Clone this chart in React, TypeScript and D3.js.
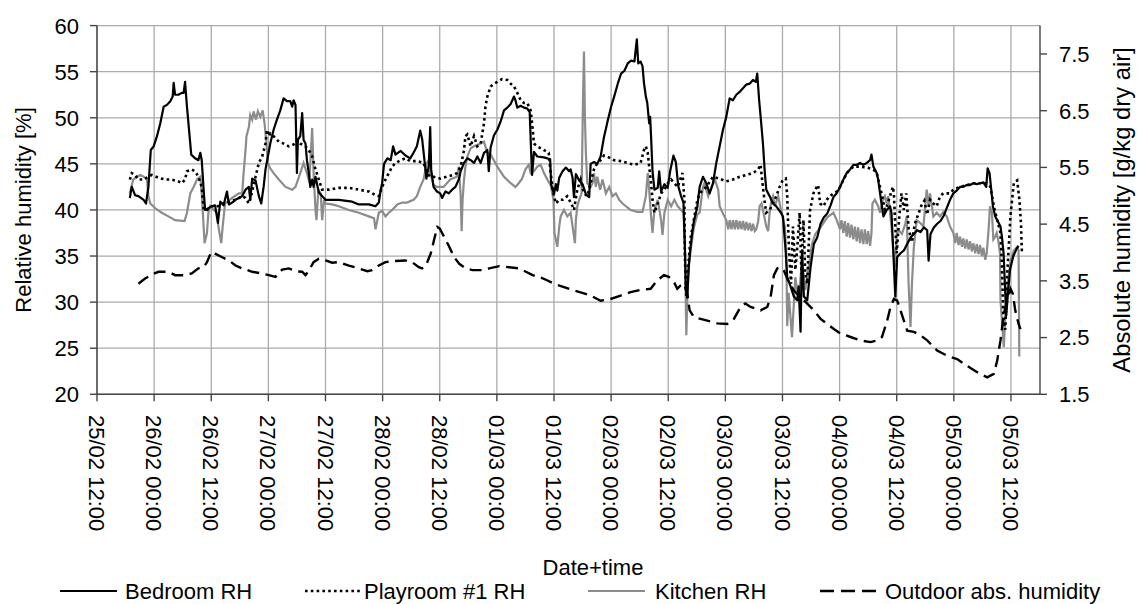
import React, { useRef, useEffect } from "react";
import * as d3 from "d3";

// each point: [hours after 25/02 12:00, value]
const bedroomRH: [number, number][] = [
  [6.9,41.3],[7.3,42.5],[8.0,41.6],[8.7,41.5],[9.8,41.1],[10.3,40.7],[10.8,42.5],[11.3,46.5],[11.9,46.9],[12.6,48.0],[13.3,49.4],[14.0,51.2],[14.7,51.4],[15.4,51.8],[15.9,52.3],[16.1,53.8],[16.4,52.5],[17.1,52.5],[17.8,52.7],[18.2,52.7],[18.5,53.9],[18.9,51.2],[19.4,48.3],[19.8,46.0],[20.6,45.6],[21.3,45.4],[21.7,46.2],[22.0,45.4],[22.4,42.2],[22.7,40.0],[23.4,40.2],[24.1,40.4],[24.8,40.5],[25.4,38.6],[25.9,40.9],[26.6,40.5],[27.3,42.0],[27.7,40.6],[28.4,40.8],[29.1,41.1],[29.8,41.3],[30.5,41.5],[31.2,42.2],[31.9,42.5],[32.2,41.1],[32.6,43.4],[33.3,43.2],[34.0,41.5],[34.5,40.7],[35.0,42.5],[35.4,44.4],[35.9,45.8],[36.4,47.2],[37.1,48.7],[37.8,49.8],[38.5,50.8],[39.2,52.1],[39.9,51.8],[40.6,51.8],[41.0,51.2],[41.3,51.9],[41.7,51.4],[42.0,44.0],[42.2,47.6],[42.7,48.0],[43.1,50.5],[43.4,47.6],[43.8,47.2],[44.1,45.4],[44.5,44.0],[44.8,42.5],[45.2,43.3],[45.5,42.5],[45.9,43.6],[46.6,41.9],[47.3,41.5],[48.0,41.1],[50.8,41.1],[53.6,40.9],[55.0,40.6],[57.1,40.6],[58.5,40.4],[59.2,40.8],[59.6,42.2],[59.9,42.9],[60.3,45.0],[61.0,45.6],[61.7,45.4],[62.2,46.9],[62.7,46.0],[63.8,46.4],[64.8,45.9],
  [65.8,45.6],[66.5,46.2],[67.2,46.9],[67.9,48.6],[68.3,47.7],[68.6,46.3],[69.2,43.4],[69.7,44.8],[70.0,49.0],[70.2,44.4],[70.7,42.5],[71.4,42.0],[72.1,41.8],[72.5,41.3],[73.2,42.0],[73.9,41.8],[74.6,42.2],[75.3,42.5],[76.0,43.3],[76.4,44.2],[77.1,45.1],[77.8,45.6],[78.5,45.4],[79.2,45.1],[79.9,45.8],[80.6,45.1],[81.3,46.2],[82.0,46.5],[82.3,44.2],[82.7,46.8],[83.4,48.1],[84.1,48.7],[84.8,49.6],[85.5,50.8],[86.2,51.1],[86.9,51.5],[87.6,52.3],[87.9,51.9],[88.3,51.1],[89.0,51.3],[89.7,51.1],[90.4,51.0],[90.9,50.6],[91.2,46.3],[91.4,43.8],[91.8,46.3],[92.5,45.8],[93.9,45.7],[95.2,45.5],[95.4,42.8],[96.0,41.7],[96.4,42.8],[96.7,42.1],[97.1,43.5],[97.8,44.2],[98.5,44.6],[99.2,44.2],[99.5,44.4],[99.9,43.5],[100.2,41.4],[100.6,43.9],[101.3,43.2],[102.0,42.8],[102.7,41.7],[103.4,41.4],[103.7,45.0],[104.4,45.2],[105.1,45.0],[105.8,45.8],[106.5,47.9],[107.3,49.7],[108.0,51.2],[108.7,52.4],[109.4,53.7],[110.1,54.8],[110.8,55.1],[111.5,55.9],[112.2,56.2],[112.9,56.1],[113.4,58.5],[113.7,55.9],[114.2,56.1],[114.6,55.6],[114.9,53.8],[115.3,52.3],[115.6,51.6],[116.0,49.4],[116.2,50.1],[116.4,47.9],[116.7,44.2],[117.1,42.2],[117.8,42.4],[118.1,44.2],[118.5,42.0],[119.2,42.8],[119.9,42.4],[120.4,44.2],[121.1,45.9],[121.6,45.2],[122.1,42.6],[122.7,41.5],[123.2,40.8],[123.5,36.0],[123.7,31.5],[124.0,30.5],[124.3,33.8],[124.7,36.0],[125.0,37.4],[125.4,38.8],[126.1,40.3],
  [126.6,42.5],[127.3,43.6],[128.0,42.9],[128.7,41.8],[129.4,42.9],[130.1,45.1],[130.8,46.9],[131.5,48.7],[132.2,50.1],[132.9,52.1],[133.6,51.9],[134.3,52.5],[135.0,52.8],[135.7,53.2],[136.4,53.6],[137.1,53.7],[137.8,54.1],[138.4,53.9],[138.7,54.8],[139.1,51.9],[139.6,49.0],[139.9,47.2],[140.3,44.0],[140.6,42.2],[141.3,41.5],[142.0,40.7],[142.7,40.4],[143.8,39.6],[144.1,39.3],[144.7,35.3],[145.0,32.7],[145.7,31.7],[146.4,30.6],[147.1,30.2],[147.4,31.7],[147.8,26.8],[148.1,35.6],[148.5,30.6],[149.2,30.2],[149.9,33.8],[150.6,36.3],[151.3,37.0],[152.0,38.5],[152.7,39.2],[153.4,39.6],[154.1,40.5],[154.7,41.4],[155.4,41.8],[156.1,42.5],[156.8,43.3],[157.5,44.0],[158.2,44.4],[158.9,44.9],[159.6,44.9],[160.3,45.1],[161.0,44.9],[161.7,45.1],[162.4,45.4],[162.7,46.0],[163.1,44.7],[163.8,44.0],[164.1,43.3],[164.5,41.8],[164.8,40.7],[165.2,39.3],[165.9,40.0],[166.6,40.4],[166.9,39.7],[167.3,35.3],[167.7,30.6],[168.1,34.9],[168.8,35.3],[169.5,35.6],[170.2,36.3],[170.9,37.0],[171.6,37.4],[172.3,37.8],[173.0,37.6],[173.7,38.1],[174.4,37.8],[174.7,34.5],[175.1,37.4],[175.8,38.1],[176.5,38.5],[177.2,38.8],[177.9,39.4],[178.5,40.2],[179.2,41.1],[179.9,41.8],[180.6,42.1],[181.3,42.5],[182.0,42.5],[182.7,42.7],[183.4,42.7],[184.1,42.9],[184.8,42.8],[185.5,42.9],[186.2,43.0],[186.8,42.5],[187.1,44.5],[187.5,44.0],[187.8,42.5],[188.2,40.4],[188.7,39.3],[189.1,38.9],[189.8,38.2],[190.1,37.1],[190.45,35.3],[190.8,31.0],[191.0,28.5],[191.3,30.5],[191.8,33.5],[192.5,35.0],[193.2,35.8],[193.6,36.1],
];

const playroomRH: [number, number][] = [
  [6.9,43.3],[7.3,44.0],[8.0,43.8],[8.7,43.3],[9.8,43.3],[10.8,43.6],[11.5,43.8],[12.9,43.5],[14.3,43.3],[15.7,43.3],[17.1,43.1],[17.8,42.9],[18.5,43.3],[18.9,44.2],[19.9,44.4],[20.6,44.2],[21.3,43.6],[22.0,42.5],[22.4,40.0],[23.1,40.0],[24.1,40.4],[25.4,40.4],[26.6,40.7],[27.7,40.9],[29.1,41.1],[30.5,41.5],[31.2,41.3],[31.9,40.7],[32.6,42.0],[33.3,43.6],[34.0,45.1],[34.7,45.8],[35.4,47.2],[35.7,48.7],[36.1,48.0],[36.4,48.3],[37.1,48.0],[38.2,47.4],[39.2,47.2],[40.3,46.9],[41.3,47.1],[42.0,47.6],[42.7,47.2],[43.8,46.9],[44.5,46.5],[45.2,45.8],[45.9,44.4],[46.6,43.3],[47.3,42.2],[48.7,42.2],[50.8,42.4],[52.9,42.4],[55.0,42.2],[57.1,42.0],[58.5,41.6],[59.2,41.5],[59.9,42.5],[60.6,43.3],[61.3,44.0],[62.0,44.7],[62.7,45.1],[63.8,45.4],[64.8,45.6],
  [65.8,45.3],[67.2,45.3],[68.6,45.1],[69.3,44.0],[70.0,43.6],[70.7,43.6],[72.1,43.4],[73.5,43.6],[74.9,43.8],[75.6,44.0],[76.4,44.7],[77.1,46.5],[77.4,48.0],[77.8,48.2],[78.5,46.9],[79.2,48.0],[79.9,46.9],[80.6,47.2],[81.3,49.4],[81.6,51.2],[82.0,52.3],[82.7,53.4],[83.4,53.7],[84.1,53.9],[85.1,54.2],[86.2,54.1],[86.9,53.7],[87.6,53.4],[88.3,52.7],[89.0,51.9],[89.7,51.6],[90.4,51.6],[91.1,50.8],[91.4,49.4],[91.8,47.2],[92.5,46.9],[93.9,46.5],[94.9,46.2],[95.3,44.0],[95.7,42.5],[96.0,41.5],[96.4,40.7],[97.1,41.1],[97.8,41.1],[98.8,41.5],[99.9,40.4],[100.2,40.0],[100.9,42.2],[101.6,43.3],[102.3,41.8],[103.0,41.5],[103.7,42.9],[104.4,44.4],[105.1,45.1],[105.8,45.4],[106.5,45.9],[107.2,45.8],[108.6,45.4],[110.0,45.3],[111.4,45.1],[112.8,44.9],[114.2,45.1],[114.9,46.5],[115.3,46.9],[115.7,46.2],[116.0,44.7],[116.4,42.9],[116.7,41.1],[117.1,39.7],[117.8,40.7],[118.5,41.8],[119.2,42.2],[119.9,42.9],[120.6,43.3],[121.3,42.9],[122.0,42.5],[122.7,43.6],[123.0,44.0],[123.4,41.1],[123.5,35.0],[123.8,30.5],[124.0,32.0],[124.3,34.5],[124.7,37.0],[125.4,39.0],[126.1,41.0],
  [126.6,41.8],[128.0,42.5],[129.4,43.6],[130.8,43.4],[132.2,43.1],[133.6,43.3],[135.0,43.6],[136.4,43.8],[137.8,44.0],[138.9,44.4],[139.4,44.9],[139.8,42.9],[140.3,40.7],[140.6,39.7],[141.3,40.0],[142.0,40.7],[142.7,41.5],[143.4,42.5],[144.1,43.3],[144.7,43.4],[145.0,41.5],[145.2,38.2],[145.4,35.3],[145.8,32.0],[146.2,38.2],[146.7,33.5],[147.2,36.5],[147.6,39.7],[148.0,33.0],[148.4,38.9],[148.8,33.0],[149.2,32.0],[149.8,40.0],[150.5,41.8],[151.2,42.5],[151.5,42.7],[151.9,40.7],[152.6,40.4],[153.3,41.1],[154.0,41.5],[154.7,41.8],[155.4,42.0],[156.1,42.5],[157.5,44.0],[158.9,44.7],[160.3,44.7],[161.7,44.6],[163.1,44.4],[163.8,44.0],[164.5,42.5],[165.1,41.1],[165.5,40.0],[165.9,40.4],[166.6,41.5],[167.2,42.5],[167.4,41.8],[167.7,38.2],[168.0,35.3],[168.5,39.0],[169.0,41.8],[169.5,40.0],[170.0,41.8],[170.5,38.0],[171.2,36.5],[171.8,38.5],[172.5,39.5],[173.2,40.5],[173.8,41.0],[174.4,39.5],[175.0,41.1],[175.7,40.7],[176.4,40.4],[177.1,41.5],[177.8,41.8],[179.2,41.8],[179.9,42.2],[181.3,42.5],[182.7,42.7],[184.1,42.9],[185.5,42.9],[186.9,42.9],[187.7,42.5],[188.4,40.4],[189.1,38.9],[189.8,37.5],[190.1,34.0],[190.4,28.5],[190.8,27.0],[191.2,32.9],[191.9,39.4],[192.6,42.9],[193.3,43.2],[193.8,41.0],[194.1,38.5],[194.3,35.4],
];

const kitchenRH: [number, number][] = [
  [6.9,41.8],[7.6,43.3],[8.4,43.6],[9.1,43.8],[9.8,43.6],[10.5,43.3],[10.8,41.5],[11.2,40.7],[12.2,40.2],[13.6,39.7],[15.0,39.3],[16.4,38.9],[18.4,38.8],[18.9,39.7],[19.6,41.8],[20.3,42.5],[21.0,43.3],[21.7,43.6],[22.0,41.8],[22.4,38.2],[22.6,36.4],[23.1,37.5],[23.4,39.7],[23.8,40.4],[24.5,40.0],[25.2,39.7],[25.5,38.2],[26.1,36.4],[26.4,38.2],[26.9,40.7],[28.4,41.3],[29.8,41.8],[30.5,41.8],[30.8,44.0],[31.2,46.5],[31.4,48.0],[31.9,49.0],[32.2,50.3],[32.6,49.8],[32.9,50.7],[33.4,49.8],[33.8,50.7],[34.3,50.1],[34.8,50.8],[35.2,49.4],[35.6,47.2],[35.9,45.1],[36.4,44.5],[37.1,44.0],[38.2,43.3],[39.6,42.5],[41.0,42.2],[41.7,42.5],[42.7,44.0],[43.4,45.1],[44.1,44.0],[44.6,43.0],[45.2,48.9],[45.5,44.0],[45.9,40.0],[46.1,38.9],[46.5,42.2],[47.0,41.8],[47.3,38.9],[47.7,41.1],[48.0,40.7],[49.4,40.6],[50.8,40.4],[52.9,40.0],[55.0,39.7],[57.1,39.3],[58.2,39.1],[58.5,37.9],[58.9,38.9],[59.2,39.7],[59.9,39.9],[60.6,39.3],[61.3,39.7],[62.0,40.0],[63.1,40.6],[64.1,40.8],
  [65.1,40.8],[66.5,41.1],[67.2,41.5],[67.9,42.5],[68.6,43.3],[69.3,45.1],[69.7,45.4],[70.0,44.0],[70.7,42.7],[71.4,42.5],[72.8,42.5],[74.2,43.3],[75.6,43.6],[76.0,44.7],[76.4,41.5],[76.6,37.7],[76.8,41.1],[77.1,43.3],[77.4,44.7],[77.8,45.8],[78.5,46.7],[79.2,46.9],[80.6,47.2],[81.3,47.4],[82.0,46.2],[82.7,46.0],[84.1,44.7],[85.5,43.6],[86.9,42.9],[87.9,42.5],[88.6,42.9],[89.3,43.4],[90.0,44.4],[90.7,44.9],[91.1,44.0],[91.8,44.2],[92.5,44.7],[93.2,44.9],[93.9,44.0],[94.6,43.3],[95.3,42.7],[95.9,41.1],[96.1,37.5],[96.7,36.0],[97.1,38.2],[97.4,39.3],[98.1,40.0],[98.8,39.3],[99.5,39.7],[100.1,37.5],[100.4,36.4],[100.6,38.9],[100.9,40.4],[101.3,41.1],[101.8,41.8],[102.1,52.0],[102.3,57.2],[102.5,50.0],[102.7,46.2],[103.0,42.9],[103.7,42.5],[104.1,42.9],[104.4,44.0],[104.8,42.5],[105.1,43.6],[105.7,42.2],[106.2,43.3],[106.9,41.8],[107.6,42.5],[108.3,41.5],[109.0,41.8],[109.7,41.1],[110.4,40.7],[111.1,40.4],[112.1,40.0],[113.5,39.8],[114.6,39.8],[115.3,41.5],[115.7,44.0],[116.0,42.2],[116.4,39.3],[116.7,37.5],[117.1,40.0],[117.8,41.1],[118.5,38.9],[118.8,37.3],[119.2,39.7],[119.9,41.1],[120.6,40.4],[121.3,41.1],[122.0,40.4],[122.7,40.0],[123.2,39.7],[123.5,36.0],[123.8,26.4],[124.0,30.2],[124.3,33.8],[124.7,35.6],[125.4,38.1],[126.1,39.5],
  [126.6,39.7],[127.3,42.5],[127.6,42.9],[128.4,41.5],[128.7,42.0],[129.8,43.3],[130.5,42.2],[130.8,40.4],[131.5,39.6],[132.2,38.9],[132.6,37.9],[132.9,38.9],[133.3,37.9],[133.6,38.9],[134.0,37.9],[134.3,38.9],[134.7,37.9],[135.0,38.8],[135.4,37.9],[135.7,38.8],[136.1,37.8],[136.4,38.7],[136.8,37.8],[137.1,38.6],[137.5,37.7],[137.8,38.5],[138.2,37.7],[138.5,37.9],[138.9,38.8],[139.2,40.4],[139.6,40.7],[139.9,40.0],[140.6,38.2],[141.0,37.7],[141.3,39.7],[141.7,41.1],[142.0,41.5],[142.4,40.4],[143.1,41.5],[143.8,39.7],[144.5,38.2],[144.8,35.3],[145.0,27.4],[145.3,31.0],[146.0,26.2],[146.7,32.7],[147.4,30.2],[148.1,34.5],[148.8,31.3],[149.5,33.8],[150.2,36.3],[150.9,37.4],[152.0,38.1],[153.4,39.2],[154.7,39.7],[155.4,38.9],[156.1,37.9],[156.4,38.9],[156.8,37.5],[157.1,38.8],[157.5,37.1],[157.8,38.6],[158.2,37.0],[158.5,38.4],[158.9,36.8],[159.2,38.2],[159.6,36.6],[159.9,38.1],[160.3,36.4],[160.6,37.9],[161.0,36.3],[161.3,37.9],[161.7,36.3],[162.0,37.7],[162.4,36.1],[162.7,37.5],[162.9,40.7],[163.4,41.1],[164.1,40.4],[164.5,39.7],[165.1,41.1],[165.5,41.5],[165.9,40.7],[166.2,41.5],[166.6,39.7],[166.9,38.2],[167.3,35.3],[167.6,33.8],[168.0,37.4],[168.4,37.8],[169.1,37.4],[169.8,38.5],[170.1,39.3],[170.5,32.0],[170.9,27.3],[171.2,32.0],[171.6,36.0],[172.2,38.9],[172.9,38.6],[173.6,38.2],[174.3,42.2],[174.7,40.4],[175.0,41.8],[175.7,39.3],[176.4,39.7],[177.1,39.3],[177.8,39.8],[178.5,39.3],[179.2,38.2],[179.9,37.5],[180.3,36.4],[180.6,37.5],[181.0,36.2],[181.3,37.1],[181.7,36.0],[182.0,36.9],[182.4,35.8],[182.7,36.8],[183.1,35.7],[183.4,36.6],[183.8,35.5],[184.1,36.4],[184.5,35.3],[184.8,36.3],[185.2,35.2],[185.5,36.2],[185.9,35.0],[186.2,35.9],[186.6,34.6],[186.9,35.3],[187.3,37.9],[187.6,40.4],[188.0,39.7],[188.3,36.8],[188.7,37.1],[189.0,37.5],[189.3,36.8],[189.7,35.3],[189.8,30.2],[190.5,25.1],[190.8,28.3],[191.2,31.5],[191.9,34.5],[192.6,35.6],[193.3,36.0],[193.6,35.6],[193.75,24.1],
];

// g/kg dry air, right axis
const outdoorAbs: [number, number][] = [
  [8.7,3.45],[10.1,3.54],[11.5,3.61],[12.9,3.66],[15.0,3.66],[16.4,3.60],[18.5,3.60],[19.9,3.63],[21.3,3.72],[22.4,3.74],[23.1,3.83],[24.0,4.01],[24.8,3.98],[26.2,3.92],[27.7,3.86],[29.1,3.77],[30.5,3.72],[32.6,3.66],[34.7,3.63],[36.1,3.60],[37.5,3.57],[38.9,3.70],[40.3,3.72],[41.7,3.67],[43.1,3.66],[43.8,3.60],[44.5,3.68],[45.5,3.83],[46.6,3.89],[48.0,3.86],[49.4,3.82],[50.8,3.83],[52.9,3.77],[55.0,3.72],[56.8,3.67],[57.8,3.69],[59.2,3.77],[60.6,3.83],[62.7,3.85],[64.8,3.86],[66.2,3.83],[67.6,3.74],[68.3,3.72],[69.1,3.77],[70.1,3.98],[70.8,4.22],[71.5,4.45],[72.0,4.42],[72.9,4.28],[74.0,4.10],[75.0,3.92],[76.1,3.80],[77.5,3.72],[78.9,3.69],[81.0,3.69],[82.4,3.72],[84.5,3.76],[86.6,3.74],[88.7,3.72],[90.1,3.66],[91.5,3.60],[92.9,3.57],[94.3,3.52],[96.0,3.45],[98.1,3.39],[100.2,3.33],[102.3,3.28],[103.7,3.24],[105.8,3.15],[107.9,3.18],[110.0,3.24],[112.1,3.30],[114.2,3.34],[116.3,3.36],[117.7,3.51],[119.1,3.60],[120.1,3.57],[121.2,3.48],[121.9,3.36],[122.6,3.42],[123.3,3.45],[124.0,3.27],[124.5,2.98],[125.4,2.86],[126.8,2.83],[128.2,2.80],[130.3,2.75],[132.4,2.74],[133.8,2.83],[135.2,3.04],[136.2,3.10],[137.3,3.04],[139.4,2.98],[140.8,3.04],[141.5,3.21],[142.2,3.60],[142.9,3.72],[143.6,3.74],[144.3,3.68],[145.3,3.48],[146.4,3.33],[147.8,3.21],[149.2,3.10],[150.6,2.98],[152.0,2.83],[153.4,2.74],[154.8,2.65],[156.2,2.57],[158.3,2.51],[160.4,2.45],[162.5,2.42],[163.9,2.45],[164.9,2.51],[166.0,2.80],[166.7,3.04],[167.4,3.18],[168.1,3.15],[168.8,2.98],[169.5,2.80],[170.2,2.62],[171.6,2.60],[173.0,2.54],[174.4,2.45],[176.5,2.27],[178.6,2.18],[180.7,2.12],[182.8,2.00],[184.9,1.89],[187.0,1.80],[188.4,1.86],[189.1,2.09],[189.8,2.45],[190.5,2.92],[191.2,3.15],[191.9,3.36],[192.4,3.27],[192.9,2.98],[193.6,2.74],[194.0,2.65],
];

const rhTicks = [20, 25, 30, 35, 40, 45, 50, 55, 60];
const absTicks = [1.5, 2.5, 3.5, 4.5, 5.5, 6.5, 7.5];
const legendLabels = ["Bedroom RH", "Playroom #1 RH", "Kitchen RH", "Outdoor abs. humidity"];

const START = new Date(2011, 1, 25, 12, 0);
const END = new Date(2011, 2, 5, 18, 6);
const toDate = (h: number) => new Date(START.getTime() + h * 3600 * 1000);

const FONT = "'Liberation Sans', Arial, sans-serif";

const App = () => {
  const ref = useRef<SVGSVGElement>(null);

  useEffect(() => {
    const svg = d3.select(ref.current);
    svg.selectAll("*").remove();

    const left = 97, right = 1040, top = 25.6, bottom = 394.3;

    const x = d3.scaleTime().domain([START, END]).range([left, right]);
    const yL = d3.scaleLinear().domain([20, 60]).range([bottom, top]);
    const yR = d3.scaleLinear().domain([1.5, 8]).range([bottom, top]);
    const xTicks = d3.timeHour.every(12)!.range(START, END);
    const fmt = d3.timeFormat("%d/%m %H:%M");

    svg.append("rect").attr("width", 1138).attr("height", 604).attr("fill", "#fff");

    // grid
    const grid = svg.append("g").attr("stroke", "#ababab").attr("stroke-width", 1.3);
    grid.selectAll("line.h").data(rhTicks).join("line")
      .attr("x1", left).attr("x2", right)
      .attr("y1", (d) => yL(d)).attr("y2", (d) => yL(d));
    grid.selectAll("line.v").data(xTicks).join("line")
      .attr("x1", (d) => x(d)).attr("x2", (d) => x(d))
      .attr("y1", top).attr("y2", bottom);

    // series
    const lineL = d3.line<[number, number]>().x((d) => x(toDate(d[0]))).y((d) => yL(d[1]));
    const lineR = d3.line<[number, number]>().x((d) => x(toDate(d[0]))).y((d) => yR(d[1]));

    svg.append("path").datum(kitchenRH).attr("d", lineL)
      .attr("fill", "none").attr("stroke", "#8c8c8c").attr("stroke-width", 2.2);
    svg.append("path").datum(outdoorAbs).attr("d", lineR)
      .attr("fill", "none").attr("stroke", "#000").attr("stroke-width", 2.4)
      .attr("stroke-dasharray", "12 6.5");
    svg.append("path").datum(playroomRH).attr("d", lineL)
      .attr("fill", "none").attr("stroke", "#000").attr("stroke-width", 2.6)
      .attr("stroke-dasharray", "2.6 3.2");
    svg.append("path").datum(bedroomRH).attr("d", lineL)
      .attr("fill", "none").attr("stroke", "#000").attr("stroke-width", 2.2)
      .attr("stroke-linejoin", "round");

    // axes
    const ax = svg.append("g").attr("stroke", "#444").attr("stroke-width", 1.4);
    ax.append("line").attr("x1", left).attr("x2", left).attr("y1", top).attr("y2", bottom);
    ax.append("line").attr("x1", right).attr("x2", right).attr("y1", top).attr("y2", bottom);
    ax.append("line").attr("x1", left).attr("x2", right).attr("y1", bottom).attr("y2", bottom);
    ax.selectAll("line.tl").data(rhTicks).join("line")
      .attr("x1", left - 7).attr("x2", left).attr("y1", (d) => yL(d)).attr("y2", (d) => yL(d));
    ax.selectAll("line.tr").data(absTicks).join("line")
      .attr("x1", right).attr("x2", right + 7).attr("y1", (d) => yR(d)).attr("y2", (d) => yR(d));
    ax.selectAll("line.tb").data(xTicks).join("line")
      .attr("x1", (d) => x(d)).attr("x2", (d) => x(d)).attr("y1", bottom).attr("y2", bottom + 7);

    const txt = svg.append("g").attr("font-family", FONT).attr("font-size", 22).attr("fill", "#000");
    txt.selectAll("text.l").data(rhTicks).join("text")
      .attr("x", 79).attr("y", (d) => yL(d)).attr("dy", "0.36em")
      .attr("text-anchor", "end").text((d) => d);
    txt.selectAll("text.r").data(absTicks).join("text")
      .attr("x", 1059).attr("y", (d) => yR(d)).attr("dy", "0.36em")
      .text((d) => d.toFixed(1));
    txt.selectAll("text.b").data(xTicks).join("text")
      .attr("transform", (d) => `translate(${x(d)},415) rotate(90)`)
      .attr("dy", "0.36em").text((d) => fmt(d));

    txt.append("text").attr("transform", `translate(30.5,${(top + bottom) / 2}) rotate(-90)`)
      .attr("text-anchor", "middle").text("Relative humidity [%]");
    txt.append("text").attr("transform", `translate(1130,${(top + bottom) / 2}) rotate(-90)`)
      .attr("text-anchor", "middle").attr("font-size", 23.8).text("Absolute humidity [g/kg dry air]");
    txt.append("text").attr("x", 593).attr("y", 575)
      .attr("text-anchor", "middle").text("Date+time");

    // legend
    const lineStart = [60, 305, 588, 820];
    const lineEnd = [117, 360, 645, 880];
    const textStart = [125, 364, 655, 885];
    const ly = 591;
    const styles = [
      { stroke: "#000", dash: null, w: 2.2 },
      { stroke: "#000", dash: "2.6 3.2", w: 2.6 },
      { stroke: "#8c8c8c", dash: null, w: 2.2 },
      { stroke: "#000", dash: "14 7", w: 2.4 },
    ];
    const lg = svg.append("g");
    legendLabels.forEach((label, i) => {
      lg.append("line").attr("x1", lineStart[i]).attr("x2", lineEnd[i]).attr("y1", ly).attr("y2", ly)
        .attr("stroke", styles[i].stroke).attr("stroke-width", styles[i].w)
        .attr("stroke-dasharray", styles[i].dash);
      lg.append("text").attr("x", textStart[i]).attr("y", 598.5)
        .attr("font-family", FONT).attr("font-size", 22).text(label);
    });
  }, []);

  return (
    <svg
      ref={ref}
      width={1138}
      height={604}
      style={{ position: "absolute", left: 0, top: 0 }}
    />
  );
};

export default App;
